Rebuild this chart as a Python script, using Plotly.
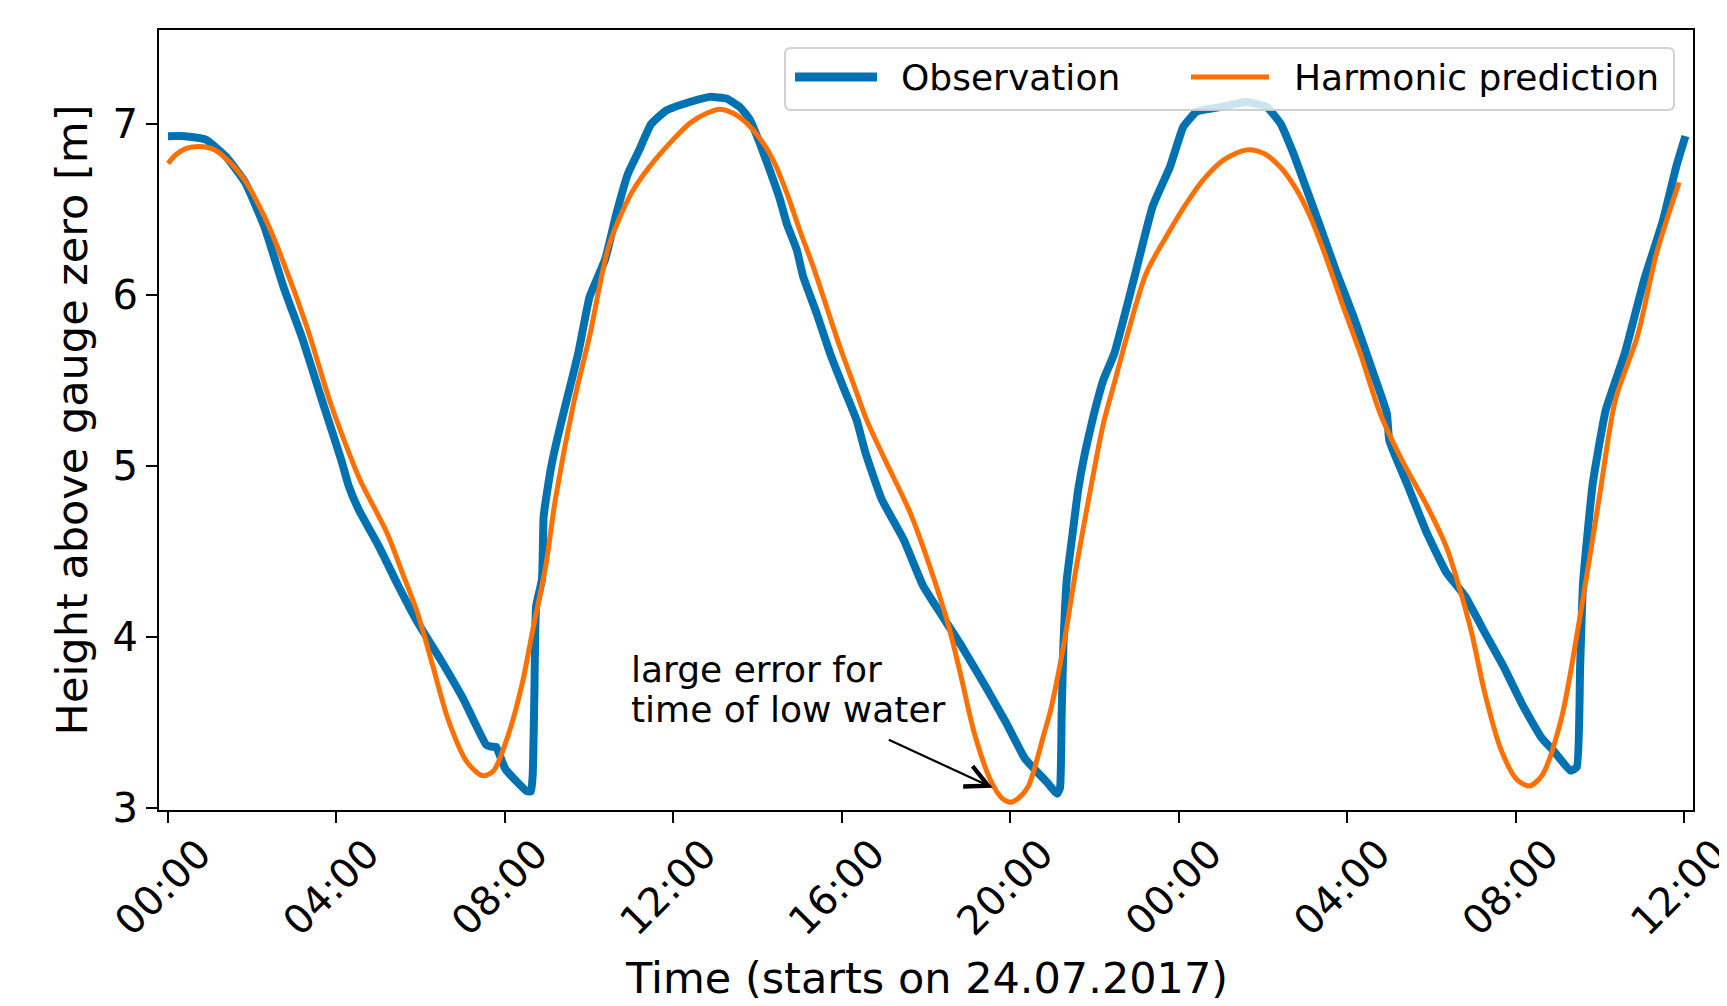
import plotly.graph_objects as go

# ---------------- data ----------------
obs_hours = [0.0, 0.4, 0.9, 1.38, 1.83, 2.29, 2.74, 3.2, 3.65, 4.11, 4.29, 4.52, 5.01, 5.47,
             5.92, 6.47, 7.01, 7.56, 7.7, 7.79, 8.01, 8.52, 8.62, 8.66, 8.7, 8.74, 8.88, 8.92,
             9.1, 9.28, 9.47, 9.74, 10.01, 10.38, 10.65, 10.92, 11.19, 11.47, 11.83, 12.39,
             12.87, 13.26, 13.58, 13.82, 14.05, 14.29, 14.53, 14.69, 14.93, 15.08, 15.4, 15.72,
             16.03, 16.35, 16.56, 16.94, 17.47, 17.93, 18.38, 18.84, 19.44, 19.9, 20.35, 20.88,
             21.11, 21.18, 21.22, 21.26, 21.34, 21.46, 21.61, 21.77, 21.97, 22.21, 22.47, 22.93,
             23.38, 23.79, 24.11, 24.43, 24.98, 25.61, 26.09, 26.41, 26.72, 27.04, 27.36, 27.75,
             28.15, 28.54, 28.94, 29.0, 29.44, 29.89, 30.35, 30.8, 31.26, 31.71, 32.17, 32.62,
             32.92, 33.3, 33.45, 33.53, 33.6, 33.83, 34.14, 34.59, 35.05, 35.5, 35.81, 36.03]
obs_values = [6.93, 6.93, 6.91, 6.81, 6.66, 6.4, 6.05, 5.74, 5.39, 5.04, 4.885, 4.75, 4.53, 4.3,
              4.09, 3.87, 3.64, 3.37, 3.36, 3.36, 3.23, 3.1, 3.1, 3.2, 3.68, 4.18, 4.34, 4.71,
              5.0, 5.2, 5.39, 5.66, 5.99, 6.21, 6.48, 6.71, 6.85, 7.0, 7.08, 7.13,
              7.16, 7.15, 7.1, 7.025, 6.89, 6.73, 6.56, 6.42, 6.265, 6.11, 5.895, 5.66,
              5.465, 5.27, 5.08, 4.81, 4.57, 4.3, 4.125, 3.95, 3.7, 3.5, 3.29, 3.15,
              3.085, 3.12, 3.556, 3.945, 4.335, 4.57, 4.86, 5.076, 5.29, 5.505, 5.66, 6.09,
              6.52, 6.75, 6.986, 7.074, 7.1, 7.13, 7.1, 7.006, 6.83, 6.616, 6.4, 6.13,
              5.875, 5.6, 5.31, 5.15, 4.885, 4.61, 4.38, 4.24, 4.03, 3.83, 3.6, 3.41,
              3.33, 3.22, 3.24, 3.83, 4.32, 4.9, 5.33, 5.66, 6.09, 6.44, 6.75, 6.93]

pred_hours = [0.0, 0.18, 0.45, 0.74, 1.11, 1.5, 1.83, 2.29, 2.65, 3.29, 3.83, 4.2, 4.56, 5.2,
              5.56, 5.92, 6.29, 6.65, 7.1, 7.47, 7.73, 8.1, 8.42, 8.65, 8.97, 9.2, 9.65, 10.01,
              10.47, 11.01, 11.56, 12.39, 12.79, 13.1, 13.42, 13.74, 14.05, 14.37, 14.69, 15.0,
              15.32, 15.64, 15.95, 16.27, 16.59, 17.02, 17.62, 18.08, 18.53, 18.84, 19.14, 19.52,
              19.8, 20.02, 20.2, 20.43, 20.81, 20.94, 21.26, 21.58, 21.9, 22.21, 22.49, 22.77,
              23.23, 23.79, 24.19, 24.58, 25.06, 25.61, 26.01, 26.41, 26.8, 27.12, 27.52, 27.91,
              28.31, 28.78, 29.29, 29.89, 30.35, 30.65, 30.95, 31.26, 31.64, 32.02, 32.32, 32.62,
              33.08, 33.53, 33.98, 34.37, 34.89, 35.35, 35.88]
pred_values = [6.77, 6.82, 6.86, 6.87, 6.85, 6.77, 6.67, 6.46, 6.25, 5.82, 5.39, 5.14, 4.92, 4.61,
               4.38, 4.145, 3.83, 3.52, 3.27, 3.19, 3.22, 3.445, 3.74, 4.03, 4.42, 4.81, 5.39, 5.76,
               6.29, 6.6, 6.79, 7.006, 7.064, 7.088, 7.064, 7.006, 6.918, 6.79, 6.6, 6.38,
               6.167, 5.93, 5.7, 5.485, 5.27, 5.04, 4.73, 4.42, 4.07, 3.76, 3.445, 3.17,
               3.06, 3.036, 3.06, 3.13, 3.445, 3.556, 3.945, 4.43, 4.86, 5.25, 5.505, 5.76,
               6.13, 6.38, 6.54, 6.674, 6.79, 6.85, 6.83, 6.75, 6.616, 6.46, 6.206, 5.93,
               5.66, 5.31, 5.04, 4.77, 4.53, 4.3, 4.03, 3.68, 3.35, 3.17, 3.13, 3.19,
               3.52, 4.125, 4.81, 5.39, 5.76, 6.25, 6.66]

tick_hours = [0, 4, 8, 12, 16, 20, 24, 28, 32, 36]
tick_labels = ["00:00", "04:00", "08:00", "12:00", "16:00", "20:00",
               "00:00", "04:00", "08:00", "12:00"]
y_ticks = [3, 4, 5, 6, 7]
series_names = ["Observation", "Harmonic prediction"]
x_title = "Time (starts on 24.07.2017)"
y_title = "Height above gauge zero [m]"

FONT = "DejaVu Sans"
BLUE = "#0072B2"
ORANGE = "#FF7000"

# page body has an 8px margin; figure placed so it lines up with the 1727x1006 window
OFF = 8
W, H = 1727 - 2 * OFF, 1006 - OFF
# plot area in figure pixels
L, R, T, B = 159 - OFF, 1693 - OFF, 30 - OFF, 810 - OFF


def px(x):
    """screen x (reference pixels) -> paper fraction"""
    return (x - OFF - L) / (R - L)


def py(y):
    """screen y (reference pixels) -> paper fraction"""
    return (B - (y - OFF)) / (B - T)


fig = go.Figure()
fig.add_trace(go.Scatter(x=obs_hours, y=obs_values, mode="lines", name=series_names[0],
                         line=dict(color=BLUE, width=8, shape="spline", smoothing=0.4),
                         showlegend=False))
fig.add_trace(go.Scatter(x=pred_hours, y=pred_values, mode="lines", name=series_names[1],
                         line=dict(color=ORANGE, width=5, shape="spline", smoothing=0.8),
                         showlegend=False))

# annotation text (two lines) and arrow
fig.add_annotation(x=10.95, y=3.81, xref="x", yref="y", text="large error for",
                   showarrow=False, xanchor="left", yanchor="middle",
                   font=dict(family=FONT, size=36, color="black"))
fig.add_annotation(x=10.95, y=3.58, xref="x", yref="y", text="time of low water",
                   showarrow=False, xanchor="left", yanchor="middle",
                   font=dict(family=FONT, size=36, color="black"))
fig.add_annotation(x=19.58, y=3.12, xref="x", yref="y", ax=17.08, ay=3.405,
                   axref="x", ayref="y", text="", showarrow=True,
                   arrowhead=5, arrowsize=2.0, arrowwidth=2.2, arrowcolor="black",
                   standoff=0, startstandoff=0)

# x-axis title placed as text below the rotated tick labels
fig.add_annotation(x=0.5, y=py(978), xref="paper", yref="paper", text=x_title,
                   showarrow=False, xanchor="center", yanchor="middle",
                   font=dict(family=FONT, size=43, color="black"))

# legend (drawn manually to match matplotlib style)
bx0, bx1, by0, by1 = px(785), px(1674), py(110), py(48)
rx, ry = 6 / (R - L), 6 / (B - T)
legend_path = (f"M{bx0 + rx},{by0} L{bx1 - rx},{by0} Q{bx1},{by0} {bx1},{by0 + ry} "
               f"L{bx1},{by1 - ry} Q{bx1},{by1} {bx1 - rx},{by1} L{bx0 + rx},{by1} "
               f"Q{bx0},{by1} {bx0},{by1 - ry} L{bx0},{by0 + ry} Q{bx0},{by0} {bx0 + rx},{by0} Z")
fig.add_shape(type="path", path=legend_path, xref="paper", yref="paper",
              fillcolor="rgba(255,255,255,0.8)", line=dict(color="rgba(204,204,204,0.9)", width=2),
              layer="above")
ly = py(77)
fig.add_shape(type="line", xref="paper", yref="paper", x0=px(795), x1=px(877), y0=ly, y1=ly,
              line=dict(color=BLUE, width=9), layer="above")
fig.add_shape(type="line", xref="paper", yref="paper", x0=px(1191), x1=px(1269), y0=ly, y1=ly,
              line=dict(color=ORANGE, width=5), layer="above")
fig.add_annotation(x=px(899), y=ly, xref="paper", yref="paper", text=series_names[0],
                   showarrow=False, xanchor="left", yanchor="middle",
                   font=dict(family=FONT, size=36, color="black"))
fig.add_annotation(x=px(1292), y=ly, xref="paper", yref="paper", text=series_names[1],
                   showarrow=False, xanchor="left", yanchor="middle",
                   font=dict(family=FONT, size=36, color="black"))

fig.update_layout(
    width=W, height=H,
    margin=dict(l=L, r=W - R, t=T, b=H - B, autoexpand=False),
    plot_bgcolor="white", paper_bgcolor="white",
    font=dict(family=FONT, color="black"),
    showlegend=False,
    xaxis=dict(range=[-0.214, 36.21], tickvals=tick_hours, ticktext=tick_labels,
               tickangle=-45, tickfont=dict(family=FONT, size=40, color="black"),
               ticks="outside", ticklen=11, tickwidth=2, tickcolor="black",
               ticklabelshift=31, ticklabelstandoff=-9, ticklabeloverflow="allow",
               showline=True, linecolor="black", linewidth=2, mirror=True,
               showgrid=False, zeroline=False, automargin=False),
    yaxis=dict(range=[2.99, 7.551], tickvals=y_ticks,
               tickfont=dict(family=FONT, size=40, color="black"),
               ticks="outside", ticklen=11, tickwidth=2, tickcolor="black",
               showline=True, linecolor="black", linewidth=2, mirror=True,
               showgrid=False, zeroline=False, automargin=False,
               title=dict(text=y_title,
                          font=dict(family=FONT, size=43, color="black"), standoff=11)),
)

fig.write_html("out.html")
